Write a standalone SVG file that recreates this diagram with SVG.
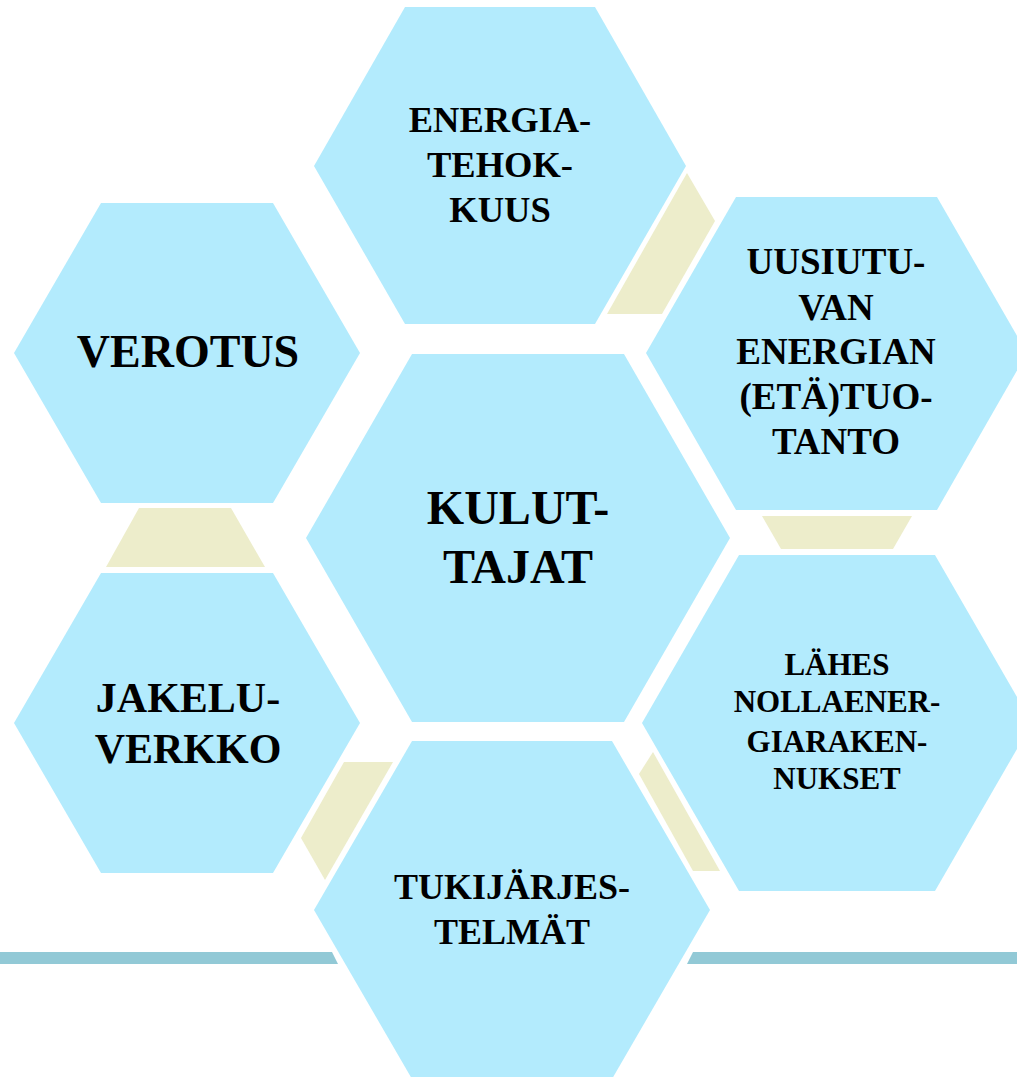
<svg xmlns="http://www.w3.org/2000/svg" width="1017" height="1077" viewBox="0 0 1017 1077">
<style>
.hex{fill:#B3EBFD;}
.link{fill:#EDEDCB;}
.bar{fill:#92C9D6;}
text{font-family:"Liberation Serif","Times New Roman",serif;font-weight:bold;fill:#000;text-anchor:middle;}
</style>
<rect width="1017" height="1077" fill="#fff"/>
<g id="bars">
<polygon class="bar" points="0,952 332,952 338,964 0,964"/>
<polygon class="bar" points="693,952 1017,952 1017,964 687,964"/>
</g>
<g id="connectors">
<polygon class="link" points="687,173 715,221 662,314 607,314"/>
<polygon class="link" points="139,508 231,508 265,567 106,567"/>
<polygon class="link" points="762,516 912,516 893,549 781,549"/>
<polygon class="link" points="344,762 393,762 325,880 301,838"/>
<polygon class="link" points="653,752 720,871 693,871 639,774"/>
</g>
<g id="energiatehokkuus">
<polygon class="hex" points="314,166 405,7 595,7 686,166 595,324 405,324"/>
<text font-size="36.5"><tspan x="500" y="132">ENERGIA-</tspan><tspan x="500" y="177">TEHOK-</tspan><tspan x="500" y="222">KUUS</tspan></text>
</g>
<g id="verotus">
<polygon class="hex" points="14,353 101,203 273,203 360,353 273,503 101,503"/>
<text font-size="46" x="188" y="367">VEROTUS</text>
</g>
<g id="kuluttajat">
<polygon class="hex" points="306,538 412,354 624,354 730,538 624,722 412,722"/>
<text font-size="48"><tspan x="518" y="524">KULUT-</tspan><tspan x="518" y="583">TAJAT</tspan></text>
</g>
<g id="uusiutuva">
<polygon class="hex" points="646,353 736,197 937,197 1027,353 937,510 736,510"/>
<text font-size="37"><tspan x="836" y="274">UUSIUTU-</tspan><tspan x="836" y="320">VAN</tspan><tspan x="836" y="364">ENERGIAN</tspan><tspan x="836" y="409">(ETÄ)TUO-</tspan><tspan x="836" y="454">TANTO</tspan></text>
</g>
<g id="jakeluverkko">
<polygon class="hex" points="14,723 101,573 273,573 360,723 273,873 101,873"/>
<text font-size="42"><tspan x="188" y="712">JAKELU-</tspan><tspan x="188" y="763">VERKKO</tspan></text>
</g>
<g id="lahesnolla">
<polygon class="hex" points="642,723 739,555 935,555 1032,723 935,891 739,891"/>
<text font-size="31"><tspan x="837" y="675">LÄHES</tspan><tspan x="837" y="712">NOLLAENER-</tspan><tspan x="837" y="752">GIARAKEN-</tspan><tspan x="837" y="789">NUKSET</tspan></text>
</g>
<g id="tukijarjestelmat">
<polygon class="hex" points="314,910 412,741 612,741 710,910 612,1079 412,1079"/>
<text font-size="36"><tspan x="512" y="899">TUKIJÄRJES-</tspan><tspan x="512" y="944">TELMÄT</tspan></text>
</g>
</svg>
